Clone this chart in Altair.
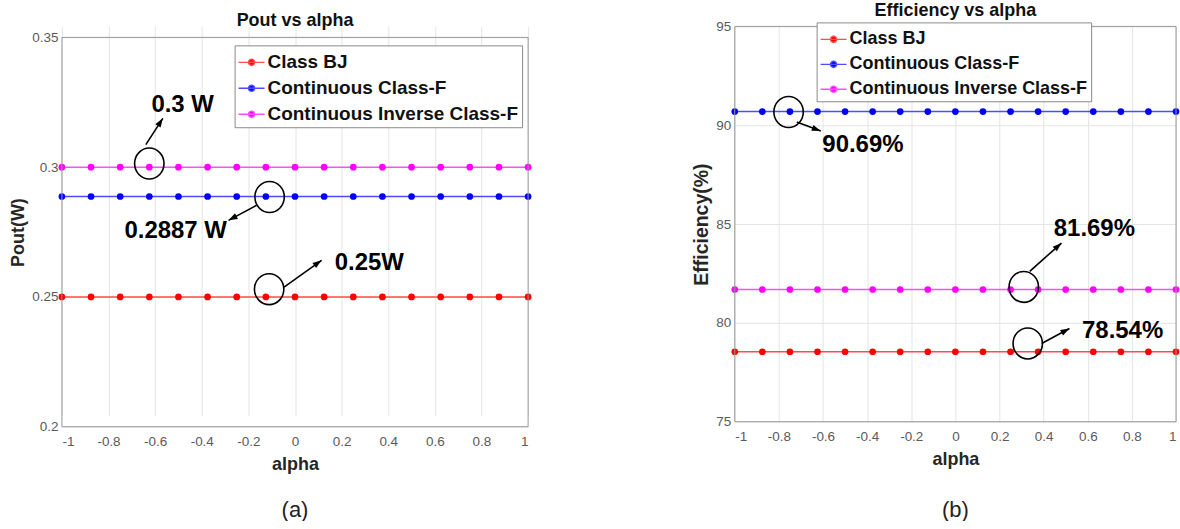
import math
import altair as alt
import pandas as pd

FONT = "Liberation Sans"

# ---------------- data ----------------
alpha = [-1, -0.875, -0.75, -0.625, -0.5, -0.375, -0.25, -0.125, 0,
         0.125, 0.25, 0.375, 0.5, 0.625, 0.75, 0.875, 1]
series_names = ["Class BJ", "Continuous Class-F", "Continuous Inverse Class-F"]
line_colors = ["#ff4d4d", "#4d4dff", "#ff4dff"]
dot_colors = ["#ff0000", "#0000ff", "#ff00ff"]

pout_bj = [0.25, 0.25, 0.25, 0.25, 0.25, 0.25, 0.25, 0.25, 0.25,
           0.25, 0.25, 0.25, 0.25, 0.25, 0.25, 0.25, 0.25]
pout_ccf = [0.2887, 0.2887, 0.2887, 0.2887, 0.2887, 0.2887, 0.2887, 0.2887, 0.2887,
            0.2887, 0.2887, 0.2887, 0.2887, 0.2887, 0.2887, 0.2887, 0.2887]
pout_cicf = [0.3, 0.3, 0.3, 0.3, 0.3, 0.3, 0.3, 0.3, 0.3,
             0.3, 0.3, 0.3, 0.3, 0.3, 0.3, 0.3, 0.3]

eff_bj = [78.54, 78.54, 78.54, 78.54, 78.54, 78.54, 78.54, 78.54, 78.54,
          78.54, 78.54, 78.54, 78.54, 78.54, 78.54, 78.54, 78.54]
eff_ccf = [90.69, 90.69, 90.69, 90.69, 90.69, 90.69, 90.69, 90.69, 90.69,
           90.69, 90.69, 90.69, 90.69, 90.69, 90.69, 90.69, 90.69]
eff_cicf = [81.69, 81.69, 81.69, 81.69, 81.69, 81.69, 81.69, 81.69, 81.69,
            81.69, 81.69, 81.69, 81.69, 81.69, 81.69, 81.69, 81.69]

x_ticks = [-1, -0.8, -0.6, -0.4, -0.2, 0, 0.2, 0.4, 0.6, 0.8, 1]
pout_ticks = [0.2, 0.25, 0.3, 0.35]
eff_ticks = [75, 80, 85, 90, 95]

# annotations (data coordinates)
pout_circle_x = [-0.625, -0.109, -0.111]
pout_circle_y = [0.3014, 0.2885, 0.2530]
pout_arrow_x1 = [-0.640, -0.165, -0.047]
pout_arrow_y1 = [0.3087, 0.2853, 0.2538]
pout_arrow_x2 = [-0.567, -0.285, 0.114]
pout_arrow_y2 = [0.3188, 0.2795, 0.2641]
pout_text = ["0.3 W", "0.2887 W", "0.25W"]
pout_text_x = [-0.482, -0.512, 0.319]
pout_text_y = [0.3241, 0.2753, 0.2632]

eff_circle_x = [-0.756, 0.310, 0.328]
eff_circle_y = [90.67, 81.82, 78.96]
eff_arrow_x1 = [-0.719, 0.337, 0.391]
eff_arrow_y1 = [90.16, 82.61, 78.96]
eff_arrow_x2 = [-0.610, 0.481, 0.517]
eff_arrow_y2 = [89.71, 84.04, 79.72]
eff_text = ["90.69%", "81.69%", "78.54%"]
eff_text_x = [-0.419, 0.630, 0.758]
eff_text_y = [88.98, 84.74, 79.58]

LEGEND_PATH = ("M-1,0L1,0M-0.24,0a0.24,0.24 0 1,0 0.48,0"
               "a0.24,0.24 0 1,0 -0.48,0Z")
ARROW_PATH = "M0,0L0.7,2L-0.7,2Z"
ELLIPSE_PATH = "M-0.95,0A0.95,1 0 1,0 0.95,0A0.95,1 0 1,0 -0.95,0Z"

LABEL_EXPR = ("datum.value < 0 ? '-' + format(-datum.value, '~g') "
              ": format(datum.value, '~g')")


def panel(values_list, y_domain, y_ticks, y_title, title, width, view_height,
          top_gap, legend_x, legend_y, legend_font, cx, cy, ax1, ay1, ax2, ay2,
          txt, tx, ty, sub_label, sub_y, ytitle_size, title_y):
    rows = []
    for name, vals in zip(series_names, values_list):
        for a, v in zip(alpha, vals):
            rows.append({"alpha": a, "value": v, "series": name})
    df = pd.DataFrame(rows)

    plot_h = view_height - top_gap
    xs = alt.Scale(domain=[-1, 1], nice=False, zero=False)
    ys = alt.Scale(domain=y_domain, nice=False, zero=False,
                   range=[view_height, top_gap])

    legend = alt.Legend(
        orient="none", legendX=legend_x, legendY=legend_y, title=None,
        symbolType=LEGEND_PATH, symbolSize=676, symbolStrokeWidth=1.4,
        labelFont=FONT, labelFontSize=legend_font, labelFontWeight="bold",
        labelColor="#111111", labelLimit=400, labelOffset=2,
        fillColor="white", strokeColor="#8a8a8a", padding=3, rowPadding=2,
        cornerRadius=0,
    )
    x_axis = alt.Axis(values=x_ticks, labelExpr=LABEL_EXPR)
    y_axis = alt.Axis(values=y_ticks, labelExpr=LABEL_EXPR, titleFontSize=ytitle_size)
    x_enc = alt.X("alpha:Q", scale=xs, title="alpha", axis=x_axis)
    y_enc = alt.Y("value:Q", scale=ys, title=y_title, axis=y_axis)

    lines = alt.Chart(df).mark_line(strokeWidth=1.5).encode(
        x=x_enc, y=y_enc,
        stroke=alt.Stroke("series:N", scale=alt.Scale(domain=series_names, range=line_colors),
                          legend=legend),
        detail="series:N",
    )
    dots = alt.Chart(df).mark_point(filled=True, size=45, opacity=1, shape="circle").encode(
        x=x_enc, y=y_enc,
        fill=alt.Fill("series:N", scale=alt.Scale(domain=series_names, range=dot_colors),
                      legend=legend),
    )

    frame_df = pd.DataFrame({"fx1": [-1], "fx2": [1],
                             "fy1": [y_domain[0]], "fy2": [y_domain[1]]})
    frame = alt.Chart(frame_df).mark_rect(fillOpacity=0, stroke="#9a9a9a",
                                          strokeWidth=1).encode(
        x=alt.X("fx1:Q", scale=xs, title="alpha", axis=x_axis), x2="fx2:Q",
        y=alt.Y("fy1:Q", scale=ys, title=y_title, axis=y_axis), y2="fy2:Q")

    ann = pd.DataFrame({"cx": cx, "cy": cy, "ax1": ax1, "ay1": ay1,
                        "ax2": ax2, "ay2": ay2, "txt": txt, "tx": tx, "ty": ty})
    # arrow-head orientation from the pixel direction of each arrow
    sx = width / 2.0
    sy = plot_h / (y_domain[1] - y_domain[0])
    ann["ang"] = [
        (math.degrees(math.atan2((b - a) * sx, (d - c) * sy)) + 360) % 360
        for a, b, c, d in zip(ann.ax1, ann.ax2, ann.ay1, ann.ay2)
    ]

    circles = alt.Chart(ann).mark_point(shape=ELLIPSE_PATH, size=961, filled=False,
                                        stroke="black", strokeWidth=1.6, opacity=1).encode(
        x=alt.X("cx:Q", scale=xs), y=alt.Y("cy:Q", scale=ys))
    shafts = alt.Chart(ann).mark_rule(color="black", strokeWidth=1.6).encode(
        x=alt.X("ax1:Q", scale=xs), y=alt.Y("ay1:Q", scale=ys),
        x2="ax2:Q", y2="ay2:Q")
    heads = alt.Chart(ann).mark_point(shape=ARROW_PATH, size=81, filled=True,
                                      fill="black", strokeWidth=0, opacity=1).encode(
        x=alt.X("ax2:Q", scale=xs), y=alt.Y("ay2:Q", scale=ys),
        angle=alt.Angle("ang:Q", scale=None))
    texts = alt.Chart(ann).mark_text(font=FONT, fontSize=24, fontWeight="bold",
                                     color="black").encode(
        x=alt.X("tx:Q", scale=xs), y=alt.Y("ty:Q", scale=ys), text="txt:N")

    lab = pd.DataFrame({"lab": [sub_label], "ttl": [title]})
    sub = alt.Chart(lab).mark_text(font=FONT, fontSize=22, color="#222222",
                                   baseline="middle").encode(
        x=alt.value(width / 2), y=alt.value(sub_y), text="lab:N")
    ttl = alt.Chart(lab).mark_text(font=FONT, fontSize=18, fontWeight="bold",
                                   color="#111111", baseline="alphabetic").encode(
        x=alt.value(width / 2), y=alt.value(title_y), text="ttl:N")

    return alt.layer(lines, dots, frame, circles, shafts, heads, texts, sub, ttl).properties(
        width=width, height=view_height,
        view=alt.ViewBackground(stroke=None),
    ).resolve_scale(stroke="shared", fill="shared")


# left: view starts 11 px above its frame so that the right panel sits higher
left = panel([pout_bj, pout_ccf, pout_cicf], [0.2, 0.35], pout_ticks, "Pout(W)",
             "Pout vs alpha", 467, 401, 11, 173, 19, 19,
             pout_circle_x, pout_circle_y, pout_arrow_x1, pout_arrow_y1,
             pout_arrow_x2, pout_arrow_y2, pout_text, pout_text_x, pout_text_y,
             "(a)", 484, 18, 0)
right = panel([eff_bj, eff_ccf, eff_cicf], [75, 95], eff_ticks, "Efficiency(%)",
              "Efficiency vs alpha", 442, 396, 0, 82, -4, 18,
              eff_circle_x, eff_circle_y, eff_arrow_x1, eff_arrow_y1,
              eff_arrow_x2, eff_arrow_y2, eff_text, eff_text_x, eff_text_y,
              "(b)", 484, 19.5, -10)

chart = alt.hconcat(left, right, spacing=159).resolve_scale(
    stroke="independent", fill="independent", x="independent", y="independent"
).resolve_legend(stroke="independent", fill="independent").properties(
    padding={"left": 9, "top": 2, "right": 0, "bottom": 0},
    background="white",
).configure_view(
    stroke=None,
).configure_axis(
    labelFont=FONT, labelFontSize=13.5, labelColor="#5a5a5a",
    titleFont=FONT, titleFontSize=18, titleFontWeight="bold", titleColor="#262626",
    gridColor="#e4e4e4", gridWidth=1, domain=False, ticks=False, tickSize=0,
).configure_axisX(
    labelPadding=8, titlePadding=7,
).configure_axisY(
    labelPadding=4, titlePadding=4,
)

chart.save("out.html", embed_options={"renderer": "svg", "actions": False})
